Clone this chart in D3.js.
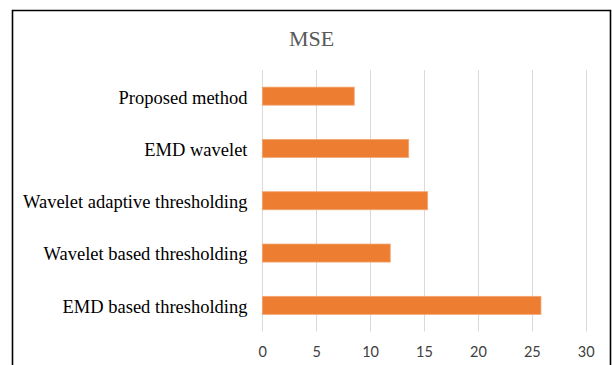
<!DOCTYPE html>
<html>
<head>
<meta charset="utf-8">
<script src="https://cdn.jsdelivr.net/npm/d3@7"></script>
<style>
  html, body { margin: 0; padding: 0; background: #fff; }
  svg { display: block; }
</style>
</head>
<body>
<svg id="chart" width="612" height="365"></svg>
<script>
// MSE per denoising method (top to bottom as drawn)
const methods = [
  "Proposed method",
  "EMD wavelet",
  "Wavelet adaptive thresholding",
  "Wavelet based thresholding",
  "EMD based thresholding"
];
const mseValues = [8.53, 13.58, 15.34, 11.87, 25.85];
const xTicks = [0, 5, 10, 15, 20, 25, 30];
const chartTitle = "MSE";

const svg = d3.select("#chart");
const W = 612, H = 365;

// outer frame (bottom edge runs past the visible area)
svg.append("path")
  .attr("d", `M12.5,${H + 5} V10.5 H610.5 V${H + 5}`)
  .attr("fill", "none")
  .attr("stroke", "#000")
  .attr("stroke-width", 1.6);

const plot = { left: 262.3, right: 585.7, top: 70, bottom: 331.5 };

const x = d3.scaleLinear().domain([0, 30]).range([plot.left, plot.right]);
const y = d3.scaleBand().domain(methods).range([plot.top, plot.bottom]).paddingInner(0.655).paddingOuter(0.3275);

// vertical gridlines
svg.append("g")
  .selectAll("line")
  .data(xTicks)
  .join("line")
  .attr("x1", d => Math.round(x(d)) + 0.5)
  .attr("x2", d => Math.round(x(d)) + 0.5)
  .attr("y1", plot.top)
  .attr("y2", plot.bottom)
  .attr("stroke", "#d9d9d9")
  .attr("stroke-width", 1);

// bars
svg.append("g")
  .selectAll("rect")
  .data(methods.map((m, i) => ({ m, v: mseValues[i] })))
  .join("rect")
  .attr("x", x(0))
  .attr("y", d => y(d.m))
  .attr("width", d => x(d.v) - x(0))
  .attr("height", y.bandwidth())
  .attr("fill", "#ED7D31")
  .attr("stroke", "#F3A774")
  .attr("stroke-width", 0.8);

// x axis tick labels
const xAxis = d3.axisBottom(x).tickValues(xTicks).tickSize(0).tickPadding(0);
const gx = svg.append("g")
  .attr("transform", `translate(0,${plot.bottom})`)
  .call(xAxis);
gx.select(".domain").remove();
gx.selectAll("text")
  .attr("y", 25)
  .attr("dy", 0)
  .attr("fill", "#404040")
  .style("font-family", "Lato, 'Open Sans', sans-serif")
  .style("font-size", "14.5px");

// category labels
const yAxis = d3.axisLeft(y).tickSize(0).tickPadding(0);
const gy = svg.append("g")
  .attr("transform", `translate(247.5,0)`)
  .call(yAxis);
gy.select(".domain").remove();
gy.selectAll("text")
  .attr("x", 0)
  .attr("dy", "0.4em")
  .attr("fill", "#000")
  .style("font-family", "'Liberation Serif', 'Times New Roman', serif")
  .style("font-size", "18.5px");

// title
svg.append("text")
  .attr("x", 311.7)
  .attr("y", 46)
  .attr("text-anchor", "middle")
  .attr("fill", "#595959")
  .style("font-family", "'Liberation Serif', 'Times New Roman', serif")
  .style("font-size", "22px")
  .text(chartTitle);
</script>
</body>
</html>
